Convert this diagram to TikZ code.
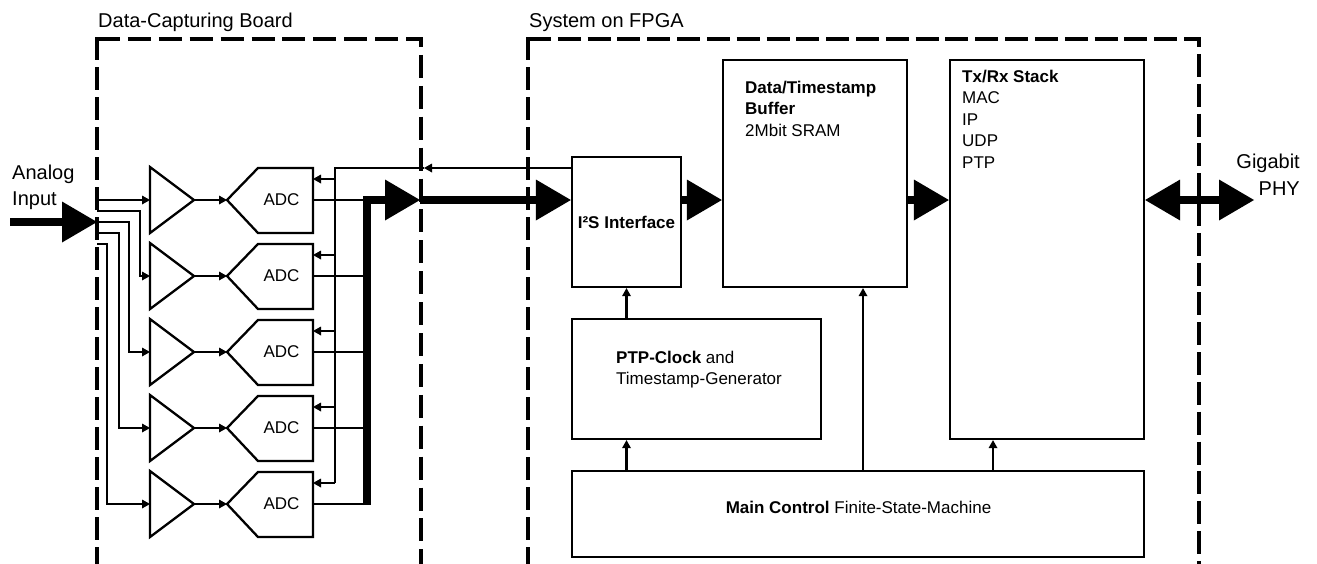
\documentclass[tikz,border=0pt]{standalone}
\usepackage{fontspec}
\setmainfont{Liberation Sans}
\usetikzlibrary{arrows.meta,calc}
\tikzset{
  sigTip/.tip={Triangle[length=8pt,width=9pt,line width=0pt]},
  busTip/.tip={Triangle[length=35pt,width=41pt,line width=0pt]},
  wire/.style={line width=2.2pt, line join=miter},
  sig/.style={wire, -{sigTip}},
  bus/.style={line width=8pt, line join=miter},
  busarrow/.style={bus, -{busTip}},
  part/.style={line width=2.3pt, line join=miter},
  blk/.style={draw, rectangle, line width=2.3pt, inner sep=0pt},
  frame/.style={line width=4pt, line join=miter, dash pattern=on 23pt off 7pt},
  txt/.style={font=\fontsize{17}{20}\selectfont, inner sep=0pt},
  big/.style={font=\fontsize{20}{24}\selectfont, inner sep=0pt},
}
\begin{document}
\begin{tikzpicture}[x=1pt,y=-1pt]
\useasboundingbox (0,0) rectangle (1317,563);
\clip (0,0) rectangle (1317,563);

% ---------- dashed enclosures ----------
\draw[frame] (97,37) -- (97,600);
\draw[frame, dash pattern=on 23pt off 7.9pt] (97,39) -- (421,39) -- (421,600);
\draw[frame] (528,37) -- (528,600);
\draw[frame, dash pattern=on 23pt off 6.82pt] (528,39) -- (1199,39) -- (1199,600);

\node[big, anchor=base west] (tboard) at (98,27) {Data-Capturing Board};
\node[big, anchor=base west] (tfpga) at (529,27) {System on FPGA};

% ---------- analog input ----------
\node[big, anchor=base west] (ain1) at (12,179) {Analog};
\node[big, anchor=base west] (ain2) at (12,205) {Input};
\coordinate (src) at (10,222);
\coordinate (ain) at (97,222);
\draw[busarrow] (src) -- (ain);

% ---------- amplifier / ADC channels ----------
\foreach \i/\xv in {0/150,1/140,2/129,3/119,4/107} {
  \pgfmathsetmacro\c{200+76*\i}
  \pgfmathsetmacro\yin{200+11*\i}
  \coordinate (in\i) at (97,\yin);
  \coordinate (amp\i-in) at (150,\c);
  \coordinate (amp\i-out) at (194,\c);
  \coordinate (adc\i-in) at (227,\c);
  \coordinate (adc\i-out) at (313,\c);
  \coordinate (bus\i) at (367,\c);
  \coordinate (ctl\i) at (335,{\c-21});
  \coordinate (adc\i-ctl) at (313,{\c-21});
  % amplifier
  \draw[part] (150,{\c-33}) -- (amp\i-out) -- (150,{\c+33}) -- cycle;
  % ADC
  \draw[part] (adc\i-in) -- (258,{\c-32}) -- (313,{\c-32}) -- (313,{\c+33}) -- (258,{\c+33}) -- cycle;
  \node[txt] (adc\i) at (281.5,\c) {ADC};
  % input fan-out
  \ifnum\i=0
    \draw[sig] (in\i) -- (amp\i-in);
  \else
    \draw[sig] (in\i) -| (\xv,\c) -- (amp\i-in);
  \fi
  \draw[sig] (amp\i-out) -- (adc\i-in);
  \draw[wire] (adc\i-out) -- (bus\i);
  \draw[sig] (ctl\i) -- (adc\i-ctl);
}

% ---------- FPGA blocks ----------
\node[blk, minimum width=109pt, minimum height=130pt] (i2s) at (626.5,222) {\fontsize{17}{20}\selectfont\bfseries I²S Interface};
\node[blk, minimum width=184pt, minimum height=227pt] (buf) at (815,173.5) {};
\node[blk, minimum width=194pt, minimum height=379pt] (txrx) at (1047,249.5) {};
\node[blk, minimum width=249pt, minimum height=120pt] (ptp) at (696.5,379) {};
\node[blk, minimum width=572pt, minimum height=86pt] (main) at (858,514) {};

\node[txt, anchor=base west] (buf1) at (745,93) {\bfseries Data/Timestamp};
\node[txt, anchor=base west] (buf2) at (745,114.5) {\bfseries Buffer};
\node[txt, anchor=base west] (buf3) at (745,136) {2Mbit SRAM};

\node[txt, anchor=base west] (tx1) at (962,82) {\bfseries Tx/Rx Stack};
\node[txt, anchor=base west] (tx2) at (962,103.5) {MAC};
\node[txt, anchor=base west] (tx3) at (962,125) {IP};
\node[txt, anchor=base west] (tx4) at (962,146.5) {UDP};
\node[txt, anchor=base west] (tx5) at (962,168) {PTP};

\node[txt, anchor=base west] (ptp1) at (616,363) {\bfseries PTP-Clock\mdseries{} and};
\node[txt, anchor=base west] (ptp2) at (616,384) {Timestamp-Generator};

\node[txt, anchor=base] (main1) at (858.5,513) {\bfseries Main Control\mdseries{} Finite-State-Machine};

\node[big, anchor=base east] (phy1) at (1300,168) {Gigabit};
\node[big, anchor=base east] (phy2) at (1300,195) {PHY};

% ---------- data bus ----------
\coordinate (busmid) at (420,200);
\coordinate (busend) at (367,505);
\draw[busarrow] (busend) -- (bus0) -- (busmid);
\draw[busarrow] (busmid) -- (i2s.west |- busmid);
\draw[busarrow] (i2s.east |- busmid) -- (buf.west |- busmid);
\draw[busarrow] (buf.east |- busmid) -- (txrx.west |- busmid);
\coordinate (phy) at (1254,200);
\draw[bus, {busTip}-{busTip}] (txrx.east |- busmid) -- (phy);

% ---------- clock / control back to the ADCs ----------
\coordinate (ctlin) at (424,168);
\draw[sig] (i2s.west |- ctlin) -- (ctlin);
\draw[wire] (ctlin) -| (ctl4);

% ---------- control arrows ----------
\coordinate (xbuf) at (863,0);
\coordinate (xtx) at (993,0);
\draw[sig] (ptp.north -| i2s.south) -- (i2s.south);
\draw[sig] (main.north -| i2s.south) -- (ptp.south -| i2s.south);
\draw[sig] (main.north -| xbuf) -- (buf.south -| xbuf);
\draw[sig] (main.north -| xtx) -- (txrx.south -| xtx);
\end{tikzpicture}
\end{document}
